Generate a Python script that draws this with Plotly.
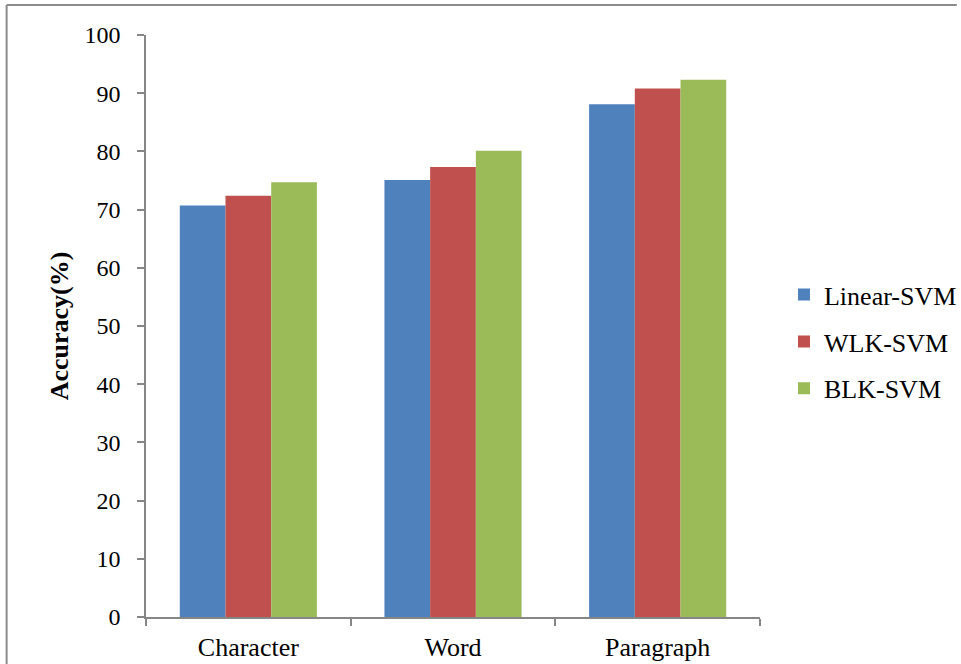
import plotly.graph_objects as go

# Classification accuracy (%) per text granularity
categories = ["Character", "Word", "Paragraph"]
linear_svm = [70.7, 75.1, 88.1]
wlk_svm = [72.4, 77.3, 90.8]
blk_svm = [74.7, 80.1, 92.3]
y_ticks = list(range(0, 101, 10))

series = [
    ("Linear-SVM", linear_svm, "#4F81BD"),
    ("WLK-SVM", wlk_svm, "#C0504D"),
    ("BLK-SVM", blk_svm, "#9BBB59"),
]

FONT = "Liberation Serif, Times New Roman, serif"
AXIS_GRAY = "#868686"

fig = go.Figure()
for name, vals, color in series:
    fig.add_trace(go.Bar(
        name=name, x=categories, y=vals, legendgroup=name,
        marker=dict(color=color, line=dict(width=0)),
    ))

# plot area in pixels (used to place the outer frame lines)
W, H = 961, 664
L, R, T, B = 145.5, 201, 34.5, 47
pw, ph = W - L - R, H - T - B


def px_x(v):
    return (v - L) / pw


def px_y(v):
    return (H - B - v) / ph


frame = dict(color="#8c8c8c", width=2)
fig.add_shape(type="line", xref="paper", yref="paper",
              x0=px_x(6), x1=px_x(6), y0=px_y(4.5), y1=px_y(H + 5), line=frame)
fig.add_shape(type="line", xref="paper", yref="paper",
              x0=px_x(6), x1=px_x(957), y0=px_y(4.5), y1=px_y(4.5), line=frame)

fig.update_layout(
    width=W, height=H,
    margin=dict(l=L, r=R, t=T, b=B, autoexpand=False),
    paper_bgcolor="white", plot_bgcolor="white",
    barmode="group", bargap=0.33, bargroupgap=0,
    font=dict(family=FONT, color="black"),
    showlegend=True,
    legend=dict(
        x=px_x(784), xanchor="left", y=0.473, yanchor="middle",
        font=dict(family=FONT, size=26, color="black"),
        tracegroupgap=10, bgcolor="rgba(0,0,0,0)",
    ),
    xaxis=dict(
        type="category", tickson="boundaries",
        showline=True, linecolor=AXIS_GRAY, linewidth=1.5,
        ticks="outside", ticklen=7, tickcolor=AXIS_GRAY, tickwidth=1.5,
        ticklabelstandoff=6,
        tickfont=dict(family=FONT, size=26, color="black"),
        showgrid=False, zeroline=False,
    ),
    yaxis=dict(
        range=[0, 100], tickvals=y_ticks,
        showline=True, linecolor=AXIS_GRAY, linewidth=1.5,
        ticks="outside", ticklen=7, tickcolor=AXIS_GRAY, tickwidth=1.5,
        ticklabelstandoff=12,
        tickfont=dict(family=FONT, size=24, color="black"),
        showgrid=False, zeroline=False,
        title=dict(text="<b>Accuracy(%)</b>", standoff=8,
                   font=dict(family=FONT, size=26, color="black")),
    ),
)

fig.write_html("out.html")
